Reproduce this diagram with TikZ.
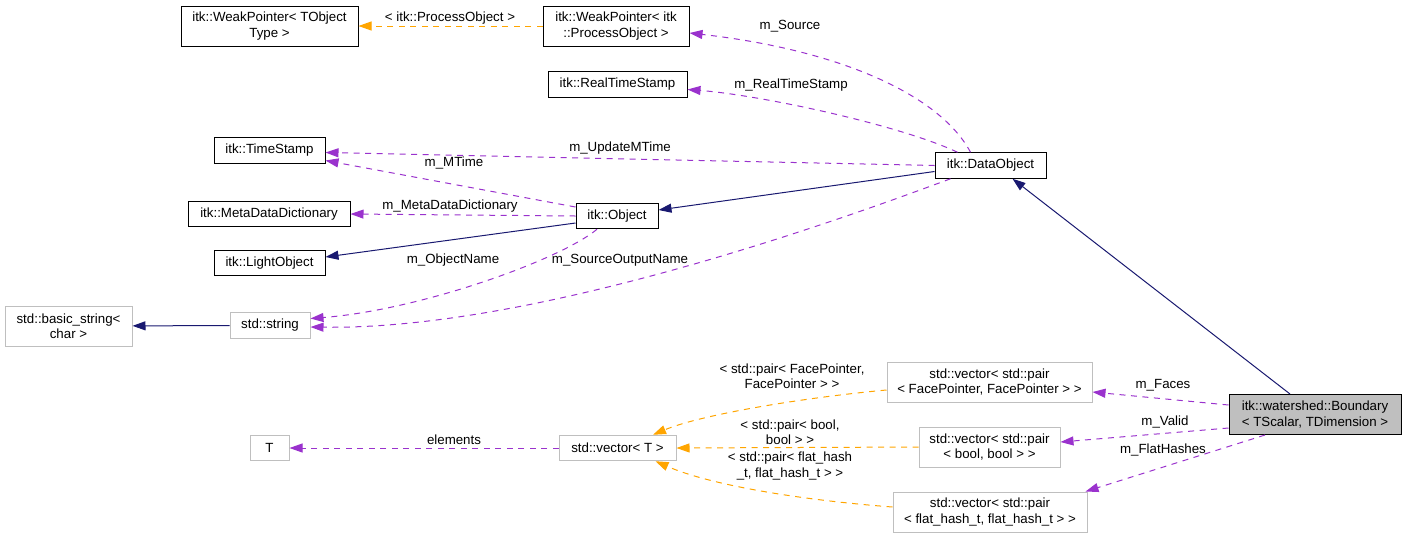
\documentclass[tikz,border=0pt]{standalone}
\usepackage{fontspec}
\setmainfont{Liberation Sans}
\usepackage{xcolor}
\usepackage{tikz}
\usetikzlibrary{arrows.meta}
\definecolor{NavyEdge}{HTML}{191970}
\definecolor{MemberEdge}{HTML}{9A32CD}
\definecolor{TmplEdge}{HTML}{FFA500}
\definecolor{ExtGray}{HTML}{BFBFBF}
\tikzset{
  cls/.style={draw=black,line width=1pt,fill=white,inner sep=0pt,align=center,
              minimum height=25.5pt},
  ext/.style={cls,draw=ExtGray},
  cur/.style={cls,fill=ExtGray},
  twoline/.style={minimum height=40pt},
  inh/.style={-{Triangle[length=13pt,width=9pt]},line width=1pt,NavyEdge},
  mem/.style={-{Triangle[length=13pt,width=9pt]},line width=1pt,MemberEdge,
              dash pattern=on 6pt off 5.5pt},
  tmpl/.style={-{Triangle[length=13pt,width=9pt]},line width=1pt,TmplEdge,
               dash pattern=on 6pt off 5.5pt},
  lbl/.style={inner sep=0pt,align=center},
}

\begin{document}
\begin{tikzpicture}[x=1pt,y=-1pt,font=\fontsize{13.3}{15.5}\selectfont]
  \useasboundingbox (0,0) rectangle (1407,539);

  % classes
  \node[cls,twoline,minimum width=177pt] (WPT)  at (269.5,26)  {itk::WeakPointer< TObject\\Type >};
  \node[cls,twoline,minimum width=146pt] (WPPO) at (616,26)    {itk::WeakPointer< itk\\::ProcessObject >};
  \node[cls,minimum width=139pt]         (RTS)  at (617.5,84.5){itk::RealTimeStamp};
  \node[cls,minimum width=111pt]         (TS)   at (269.5,150.5){itk::TimeStamp};
  \node[cls,minimum width=111pt]         (DO)   at (990.5,165.5){itk::DataObject};
  \node[cls,minimum width=162pt]         (MDD)  at (269,214)   {itk::MetaDataDictionary};
  \node[cls,minimum width=82pt]          (Obj)  at (617,216)   {itk::Object};
  \node[cls,minimum width=111pt]         (LO)   at (269.5,263) {itk::LightObject};
  \node[ext,twoline,minimum width=127pt] (BS)   at (68.5,326)  {std::basic\_string<\\char >};
  \node[ext,minimum width=80pt]          (Str)  at (270,325.5) {std::string};
  \node[ext,twoline,minimum width=205pt] (VFF)  at (989.5,382) {std::vector< std::pair\\< FacePointer, FacePointer > >};
  \node[cur,twoline,minimum width=172pt] (Bnd)  at (1315,414.5){itk::watershed::Boundary\\< TScalar, TDimension >};
  \node[ext,minimum width=39pt]          (T)    at (269.5,448) {T};
  \node[ext,minimum width=117pt]         (VT)   at (617.5,448) {std::vector< T >};
  \node[ext,twoline,minimum width=141pt] (VBB)  at (989.5,447) {std::vector< std::pair\\< bool, bool > >};
  \node[ext,twoline,minimum width=194pt] (VFH)  at (990,512)   {std::vector< std::pair\\< flat\_hash\_t, flat\_hash\_t > >};

  % inheritance
  \draw[inh] ([yshift=-6pt]DO.west) -- ([yshift=6pt]Obj.east);
  \draw[inh] ([yshift=-7pt]Obj.west) -- ([yshift=6pt]LO.east);
  \draw[inh] (Str) -- (BS);
  \draw[inh] ([xshift=-25pt]Bnd.north) -- ([xshift=22pt]DO.south);

  % members
  \draw[mem] ([xshift=-20pt]DO.north) .. controls (940,95) and (840,50) .. ([yshift=-7pt]WPPO.east);
  \draw[mem] ([xshift=-33pt]DO.north) .. controls (900,125) and (760,95) .. ([yshift=-5pt]RTS.east);
  \draw[mem] (DO.west) -- ([yshift=-2pt]TS.east);
  \draw[mem] ([yshift=9pt]Obj.west) -- ([yshift=-10pt]TS.east);
  \draw[mem] (Obj.west) -- (MDD.east);
  \draw[mem] ([xshift=-20pt]Obj.south) .. controls (560,260) and (420,310) .. ([yshift=7pt]Str.east);
  \draw[mem] ([xshift=-40pt]DO.south) .. controls (800,235) and (520,330) .. ([yshift=-1.5pt]Str.east);
  \draw[mem] ([yshift=9.5pt]Bnd.west) -- ([yshift=-10pt]VFF.east);
  \draw[mem] ([yshift=-13.5pt]Bnd.west) -- ([yshift=5pt]VBB.east);
  \draw[mem] ([xshift=-50pt]Bnd.south) -- ([xshift=-2pt]VFH.north east);
  \draw[mem] (VT) -- (T);

  % template instances
  \draw[tmpl] (WPPO) -- (WPT);
  \draw[tmpl] ([yshift=-8pt]VFF.west) .. controls (800,398) and (700,415) .. ([xshift=35.5pt]VT.north);
  \draw[tmpl] (VBB.west) -- (VT.east);
  \draw[tmpl] ([yshift=5pt]VFH.west) .. controls (800,500) and (710,485) .. ([xshift=38pt]VT.south);

  % labels
  \node[lbl] (lPO)    at (450,18)  {< itk::ProcessObject >};
  \node[lbl] (lSrc)   at (790,26)  {m\_Source};
  \node[lbl] (lRTS)   at (791,85)  {m\_RealTimeStamp};
  \node[lbl] (lUMT)   at (620,148) {m\_UpdateMTime};
  \node[lbl] (lMT)    at (454,163) {m\_MTime};
  \node[lbl] (lMDD)   at (450,206) {m\_MetaDataDictionary};
  \node[lbl] (lON)    at (453,260) {m\_ObjectName};
  \node[lbl] (lSON)   at (620,260) {m\_SourceOutputName};
  \node[lbl] (lFac)   at (1163,385){m\_Faces};
  \node[lbl] (lVal)   at (1165,422){m\_Valid};
  \node[lbl] (lFH)    at (1163,450){m\_FlatHashes};
  \node[lbl] (lEl)    at (454,440) {elements};
  \node[lbl] (lPFP)   at (792,376) {< std::pair< FacePointer,\\FacePointer > >};
  \node[lbl] (lPB)    at (790,432) {< std::pair< bool,\\bool > >};
  \node[lbl] (lPFH)   at (790,466) {< std::pair< flat\_hash\\\_t, flat\_hash\_t > >};
\end{tikzpicture}
\end{document}
